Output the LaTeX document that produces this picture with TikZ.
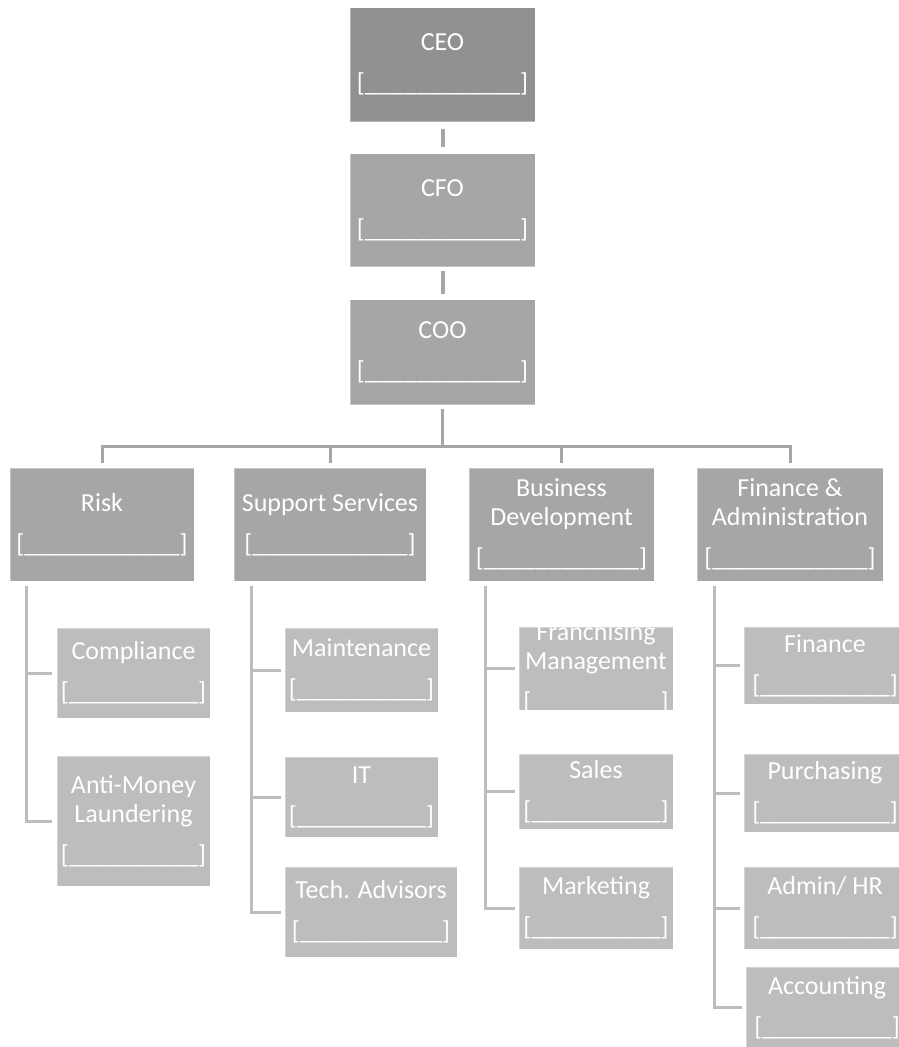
\documentclass[tikz,border=0pt]{standalone}
\usepackage{fontspec}
\setmainfont{Carlito}
\usepackage{tikz}
\usetikzlibrary{positioning}
\definecolor{chiefgray}{HTML}{919191}
\definecolor{deptgray}{HTML}{A6A6A6}
\definecolor{unitgray}{HTML}{BDBDBD}
\newcommand{\orgfont}{\fontsize{26}{29}\selectfont}
\newcommand{\longslot}{[\_\_\_\_\_\_\_\_\_\_\_\_]}
\newcommand{\midslot}{[\_\_\_\_\_\_\_\_\_\_\_]}
\newcommand{\shortslot}{[\_\_\_\_\_\_\_\_\_\_]}

\begin{document}
\begin{tikzpicture}[x=1pt,y=-1pt]
\tikzstyle{box}=[rectangle, inner sep=0pt, text=white, align=center, font=\orgfont, draw=white, draw opacity=0.35, line width=1pt, execute at begin node={\rule{0pt}{25pt}}]
\tikzstyle{chief}=[box, fill=chiefgray, minimum width=185pt, minimum height=114pt]
\tikzstyle{dept}=[box, fill=deptgray, minimum height=113pt]
\tikzstyle{unit}=[box, fill=unitgray, minimum width=154pt]
\tikzstyle{stub}=[draw=deptgray, line width=4pt]
\tikzstyle{trunk}=[draw=deptgray, line width=3pt, line cap=rect]
\tikzstyle{sublink}=[draw=unitgray, line width=3pt]
  \useasboundingbox (0,0) rectangle (899,1047);
  \clip (0,0) rectangle (899,1047);
  % top of the chart
  \node[chief] (ceo) at (442.5,64.5) {CEO\\[12pt]\longslot};
  \node[chief, fill=deptgray, minimum height=113pt] (cfo) [below=31pt of ceo] {CFO\\[12pt]\longslot};
  \node[chief, fill=deptgray, minimum height=105pt] (coo) [below=32pt of cfo] {COO\\[12pt]\longslot};
  \path
        (ceo) edge [stub, shorten <=7pt, shorten >=6pt] (cfo)
        (cfo) edge [stub, shorten <=4pt, shorten >=5pt] (coo);
  % departments
  \node[dept, minimum width=184pt] (risk) at (102,524.5) {Risk\\[12pt]\longslot};
  \node[dept, minimum width=192pt] (supp) at (330,524.5) {Support Services\\[12pt]\longslot};
  \node[dept, minimum width=185pt] (bizdev) at (561.5,524.5) {Business\\Development\\[12pt]\longslot};
  \node[dept, minimum width=186pt] (finadm) at (790,524.5) {Finance \&\\Administration\\[12pt]\longslot};
  \coordinate (bus) at (0,446);
  \draw[trunk, line cap=butt, shorten <=4pt] (coo.south) -- (coo.south |- bus);
  \draw[trunk] (risk.north |- bus) -- (finadm.north |- bus);
  \foreach \d in {risk,supp,bizdev,finadm}
    \draw[trunk, line cap=butt, shorten >=5pt] (\d.north |- bus) -- (\d.north);
  % units under Risk
  \node[unit, minimum width=153pt, minimum height=90pt] (comp) at (133.5,673) {Compliance\\[12pt]\shortslot};
  \node[unit, minimum width=153pt, minimum height=130pt] (aml) at (133.5,821) {Anti-Money\\Laundering\\[12pt]\shortslot};
  % units under Support Services
  \node[unit, minimum width=153pt, minimum height=84pt] (maint) at (361.5,670) {Maintenance\\[12pt]\shortslot};
  \node[unit, minimum width=153pt, minimum height=80pt] (it) at (361.5,797) {IT\\[12pt]\shortslot};
  \node[unit, minimum width=172pt, minimum height=90pt] (tech) at (371,912) {Tech. Advisors\\[12pt]\midslot};
  % units under Business Development
  \node[unit, minimum height=83pt, path picture={
      \node[text=white, align=center, font=\orgfont, execute at begin node={\rule{0pt}{25pt}}] (franchtext)
        at (path picture bounding box.center) {Franchising\\Management\\[12pt]\shortslot};}] (franch) at (596,668.5) {};
  \node[unit, minimum height=75pt] (sales) at (596,791.5) {Sales\\[12pt]\shortslot};
  \node[unit, minimum height=82pt] (mkt) at (596,908) {Marketing\\[12pt]\shortslot};
  % units under Finance & Administration
  \node[unit, minimum width=162pt, minimum height=77pt] (fin) at (825,665.5) {Finance\\[12pt]\shortslot};
  \node[unit, minimum width=162pt, minimum height=78pt] (purch) at (825,793) {Purchasing\\[12pt]\shortslot};
  \node[unit, minimum width=162pt, minimum height=82pt] (hr) at (825,908) {Admin/ HR\\[12pt]\shortslot};
  \node[unit, minimum width=162pt, minimum height=81pt] (acct) at (827,1007.5) {Accounting\\[12pt]\shortslot};
  % side links
  \coordinate (riskspine) at ([xshift=17pt,yshift=-4pt]risk.south west);
  \coordinate (suppspine) at ([xshift=18pt,yshift=-4pt]supp.south west);
  \coordinate (bizspine) at ([xshift=17pt,yshift=-4pt]bizdev.south west);
  \coordinate (finspine) at ([xshift=18pt,yshift=-4pt]finadm.south west);
  \foreach \u in {comp,aml}
    \draw[sublink] (riskspine) |- ([xshift=-5pt]\u.west);
  \foreach \u in {maint,it,tech}
    \draw[sublink] (suppspine) |- ([xshift=-4pt]\u.west);
  \foreach \u in {franch,sales,mkt}
    \draw[sublink] (bizspine) |- ([xshift=-4pt]\u.west);
  \foreach \u in {fin,purch,hr,acct}
    \draw[sublink] (finspine) |- ([xshift=-4pt]\u.west);
\end{tikzpicture}
\end{document}
